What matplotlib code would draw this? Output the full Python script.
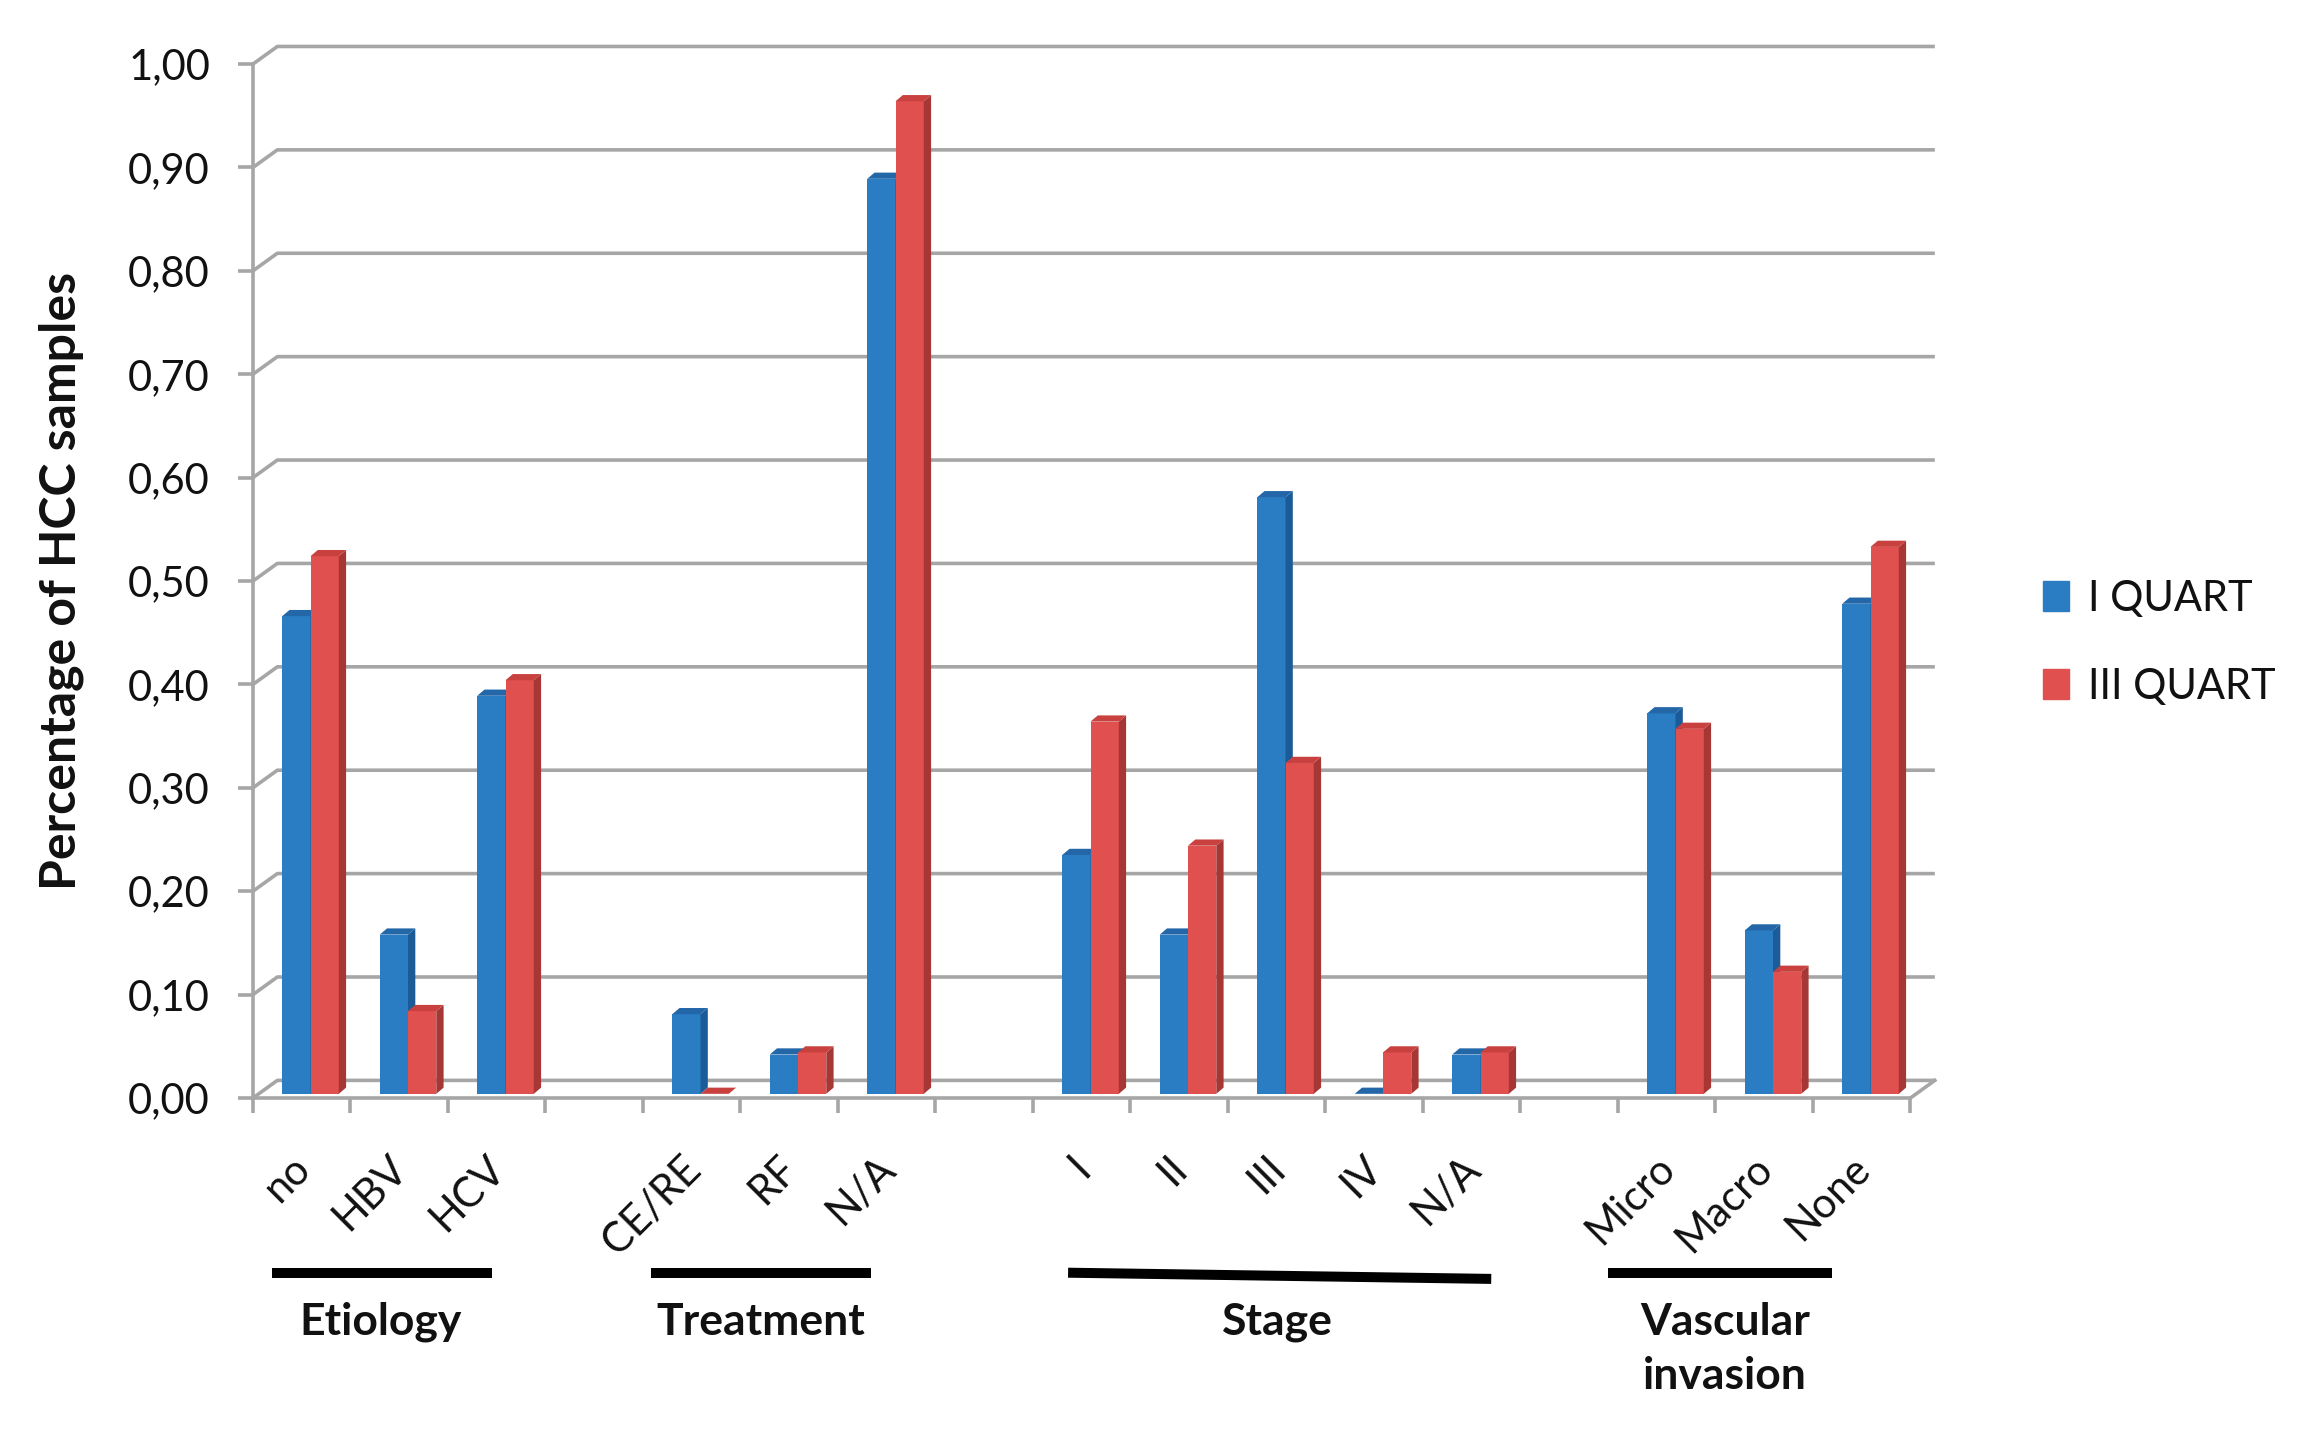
import matplotlib
matplotlib.use("Agg")
import matplotlib.pyplot as plt
from matplotlib.patches import Polygon, Patch
import numpy as np

plt.rcParams['font.family'] = ['Lato', 'DejaVu Sans']

# data
categories = ['no', 'HBV', 'HCV', '', 'CE/RE', 'RF', 'N/A', '',
              'I', 'II', 'III', 'IV', 'N/A', '', 'Micro', 'Macro', 'None']
q1 = [0.462, 0.154, 0.385, None, 0.077, 0.038, 0.885, None,
      0.231, 0.154, 0.577, 0.0, 0.038, None, 0.368, 0.158, 0.474]
q3 = [0.52, 0.08, 0.40, None, 0.0, 0.04, 0.96, None,
      0.36, 0.24, 0.32, 0.04, 0.04, None, 0.353, 0.118, 0.529]
series_names = ['I QUART', 'III QUART']
groups = ['Etiology', 'Treatment', 'Stage', 'Vascular\ninvasion']
group_span = [(0.2, 2.45), (4.08, 6.34), (8.36, 12.7), (13.9, 16.2)]
group_text_x = [1.31, 5.21, 10.51, 15.1]
yticks = [0.0, 0.1, 0.2, 0.3, 0.4, 0.5, 0.6, 0.7, 0.8, 0.9, 1.0]

blue, blue_side, blue_top = '#2A7DC3', '#1B5C98', '#2367A8'
red, red_side, red_top = '#E0504E', '#A63735', '#C8413F'
grid_c = '#A6A6A6'
txt_c = '#111111'

fig = plt.figure(figsize=(23.04, 14.36), dpi=100)
ax = fig.add_axes([0.1098, 0.2354, 0.7194, 0.72])
n = len(categories)
ax.set_xlim(0, n)
ax.set_ylim(0, 1)

# back wall offset of the 3d look
dx, dy = 0.25, 0.017
for t in yticks:
    ax.plot([0, dx, n + dx], [t, t + dy, t + dy], color=grid_c, lw=2.6,
            zorder=1, clip_on=False, solid_capstyle='butt')
ax.plot([n, n + dx], [0, dy], color=grid_c, lw=2.6, zorder=1, clip_on=False)

# bars
bw, sx, sy, ddx, ddy = 0.29, 0.30, 0.004, 0.075, 0.006
x = np.arange(n)
for vals, off, fc, sc, tc in [(q1, 0.0, blue, blue_side, blue_top),
                              (q3, bw, red, red_side, red_top)]:
    for i, v in enumerate(vals):
        if v is None:
            continue
        l = x[i] + sx + off
        r = l + bw
        z = 3 + i * 0.01 + off
        ax.bar(l, v, width=bw, bottom=sy, align='edge', color=fc, zorder=z)
        ax.add_patch(Polygon([[r, sy], [r + ddx, sy + ddy], [r + ddx, v + sy + ddy], [r, v + sy]],
                             closed=True, color=sc, zorder=z, lw=0))
        ax.add_patch(Polygon([[l, v + sy], [l + ddx, v + sy + ddy], [r + ddx, v + sy + ddy], [r, v + sy]],
                             closed=True, color=tc, zorder=z, lw=0))

for s in ['top', 'right']:
    ax.spines[s].set_visible(False)
for s in ['left', 'bottom']:
    ax.spines[s].set_color(grid_c)
    ax.spines[s].set_linewidth(2.6)
    ax.spines[s].set_zorder(2)

ax.set_yticks(yticks)
ax.set_yticklabels([('%.2f' % t).replace('.', ',') for t in yticks])
ax.set_xticks(np.arange(n + 1))
ax.set_xticklabels([])
ax.tick_params(axis='both', color=grid_c, width=2.6, length=11, direction='out')
ax.tick_params(axis='y', labelsize=30, pad=20, labelcolor=txt_c)

ax.set_ylabel('Percentage of HCC samples', fontsize=36, fontweight='bold',
              labelpad=32, color=txt_c)

for i, c in enumerate(categories):
    if c:
        ax.text(x[i] + 0.52, -0.062, c, rotation=45, rotation_mode='anchor',
                ha='right', va='center', fontsize=30, color=txt_c, clip_on=False)

for (a, b), gx, g in zip(group_span, group_text_x, groups):
    yl = -0.169
    yr = -0.175 if g == 'Stage' else yl
    ax.plot([a, b], [yl, yr], color='black', lw=7.2, clip_on=False, solid_capstyle='butt')
    ax.text(gx, -0.197, g, ha='center', va='top', fontsize=32, fontweight='bold',
            linespacing=1.45, clip_on=False, color=txt_c)

handles = [Patch(color=blue), Patch(color=red)]
fig.legend(handles, series_names, loc='center left', bbox_to_anchor=(0.8867, 0.5525),
           frameon=False, fontsize=30, handlelength=0.63, handleheight=0.7,
           handletextpad=0.45, labelspacing=1.2, borderpad=0, borderaxespad=0,
           labelcolor=txt_c)

fig.savefig('out.png', dpi=100)
